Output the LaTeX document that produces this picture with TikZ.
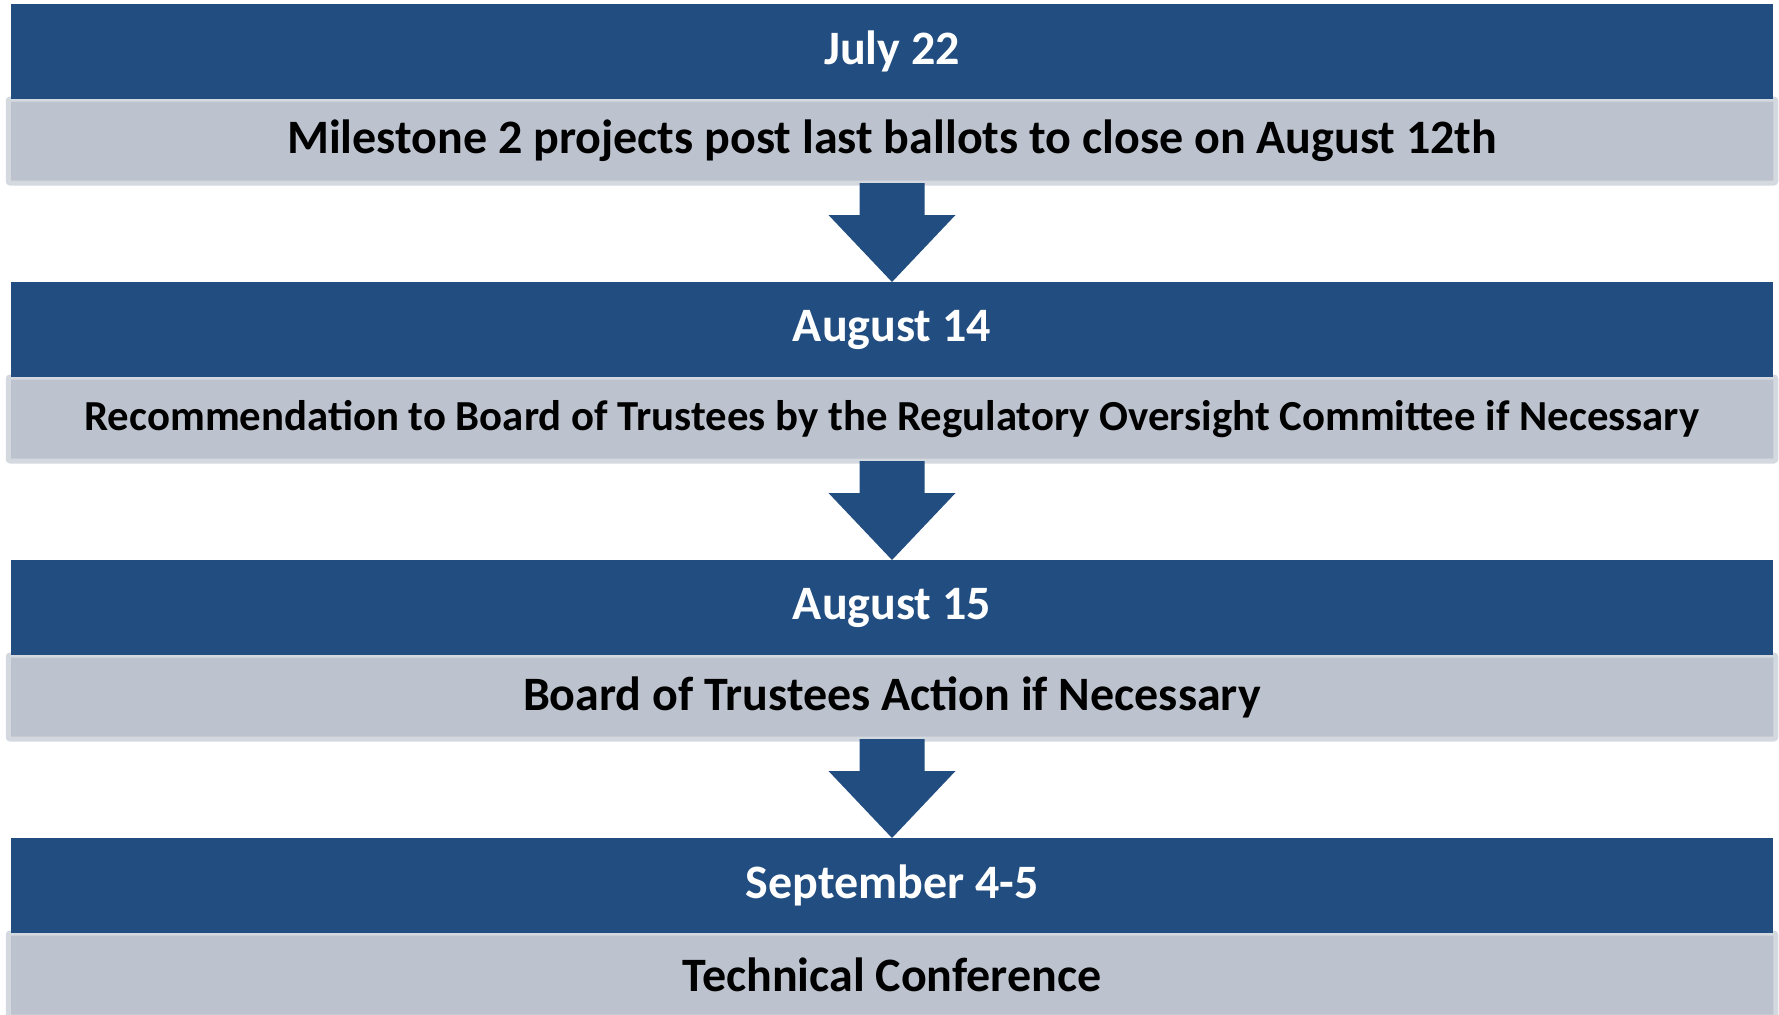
\documentclass[tikz,border=0pt]{standalone}
\usepackage{fontspec}
\setmainfont{Carlito}
\usetikzlibrary{positioning,calc,backgrounds}
\definecolor{datebar}{RGB}{33,77,128}
\definecolor{stepgray}{RGB}{189,195,206}
\definecolor{steprim}{RGB}{212,216,223}

\begin{document}
\begin{tikzpicture}[node distance=49.5pt]
\tikzstyle{datebox} = [rectangle, fill=datebar, text=white, minimum width=881pt, minimum height=47.5pt, inner sep=0pt, outer sep=0pt, font=\fontsize{24}{28}\selectfont\bfseries]
\tikzstyle{stepbox} = [rectangle, fill=stepgray, draw=steprim, line width=2.5pt, rounded corners=1pt, minimum width=883.75pt, minimum height=42pt, inner sep=0pt, outer sep=0pt, font=\fontsize{24}{28}\selectfont\bfseries]
\tikzstyle{flow} = [fill=datebar]

\useasboundingbox (0,0) rectangle (889.5pt,-507pt);
\clip (0,0) rectangle (889.5pt,-507pt);

\node [datebox] (d1) at (446pt,-25.75pt) {July 22};
\node [datebox, below=of d1, yshift=-42pt] (d2) {August 14};
\node [datebox, below=of d2, yshift=-42pt] (d3) {August 15};
\node [datebox, below=of d3, yshift=-42pt] (d4) {September 4-5};

\begin{scope}[on background layer]
\node [stepbox, below=0pt of d1] (g1) {Milestone 2 projects post last ballots to close on August 12th};
\node [stepbox, below=0pt of d2, font=\fontsize{21.4}{25}\selectfont\bfseries] (g2) {Recommendation to Board of Trustees by the Regulatory Oversight Committee if Necessary};
\node [stepbox, below=0pt of d3] (g3) {Board of Trustees Action if Necessary};
\node [stepbox, below=0pt of d4] (g4) {Technical Conference};
\end{scope}

\foreach \a/\b in {g1/d2, g2/d3, g3/d4}
  \path [flow] ($(\a.south)+(-16.25pt,0)$) -- ($(\a.south)+(-16.25pt,-16pt)$)
    -- ($(\a.south)+(-31.75pt,-16pt)$) -- (\b.north)
    -- ($(\a.south)+(31.75pt,-16pt)$) -- ($(\a.south)+(16.25pt,-16pt)$)
    -- ($(\a.south)+(16.25pt,0)$) -- cycle;
\end{tikzpicture}
\end{document}
